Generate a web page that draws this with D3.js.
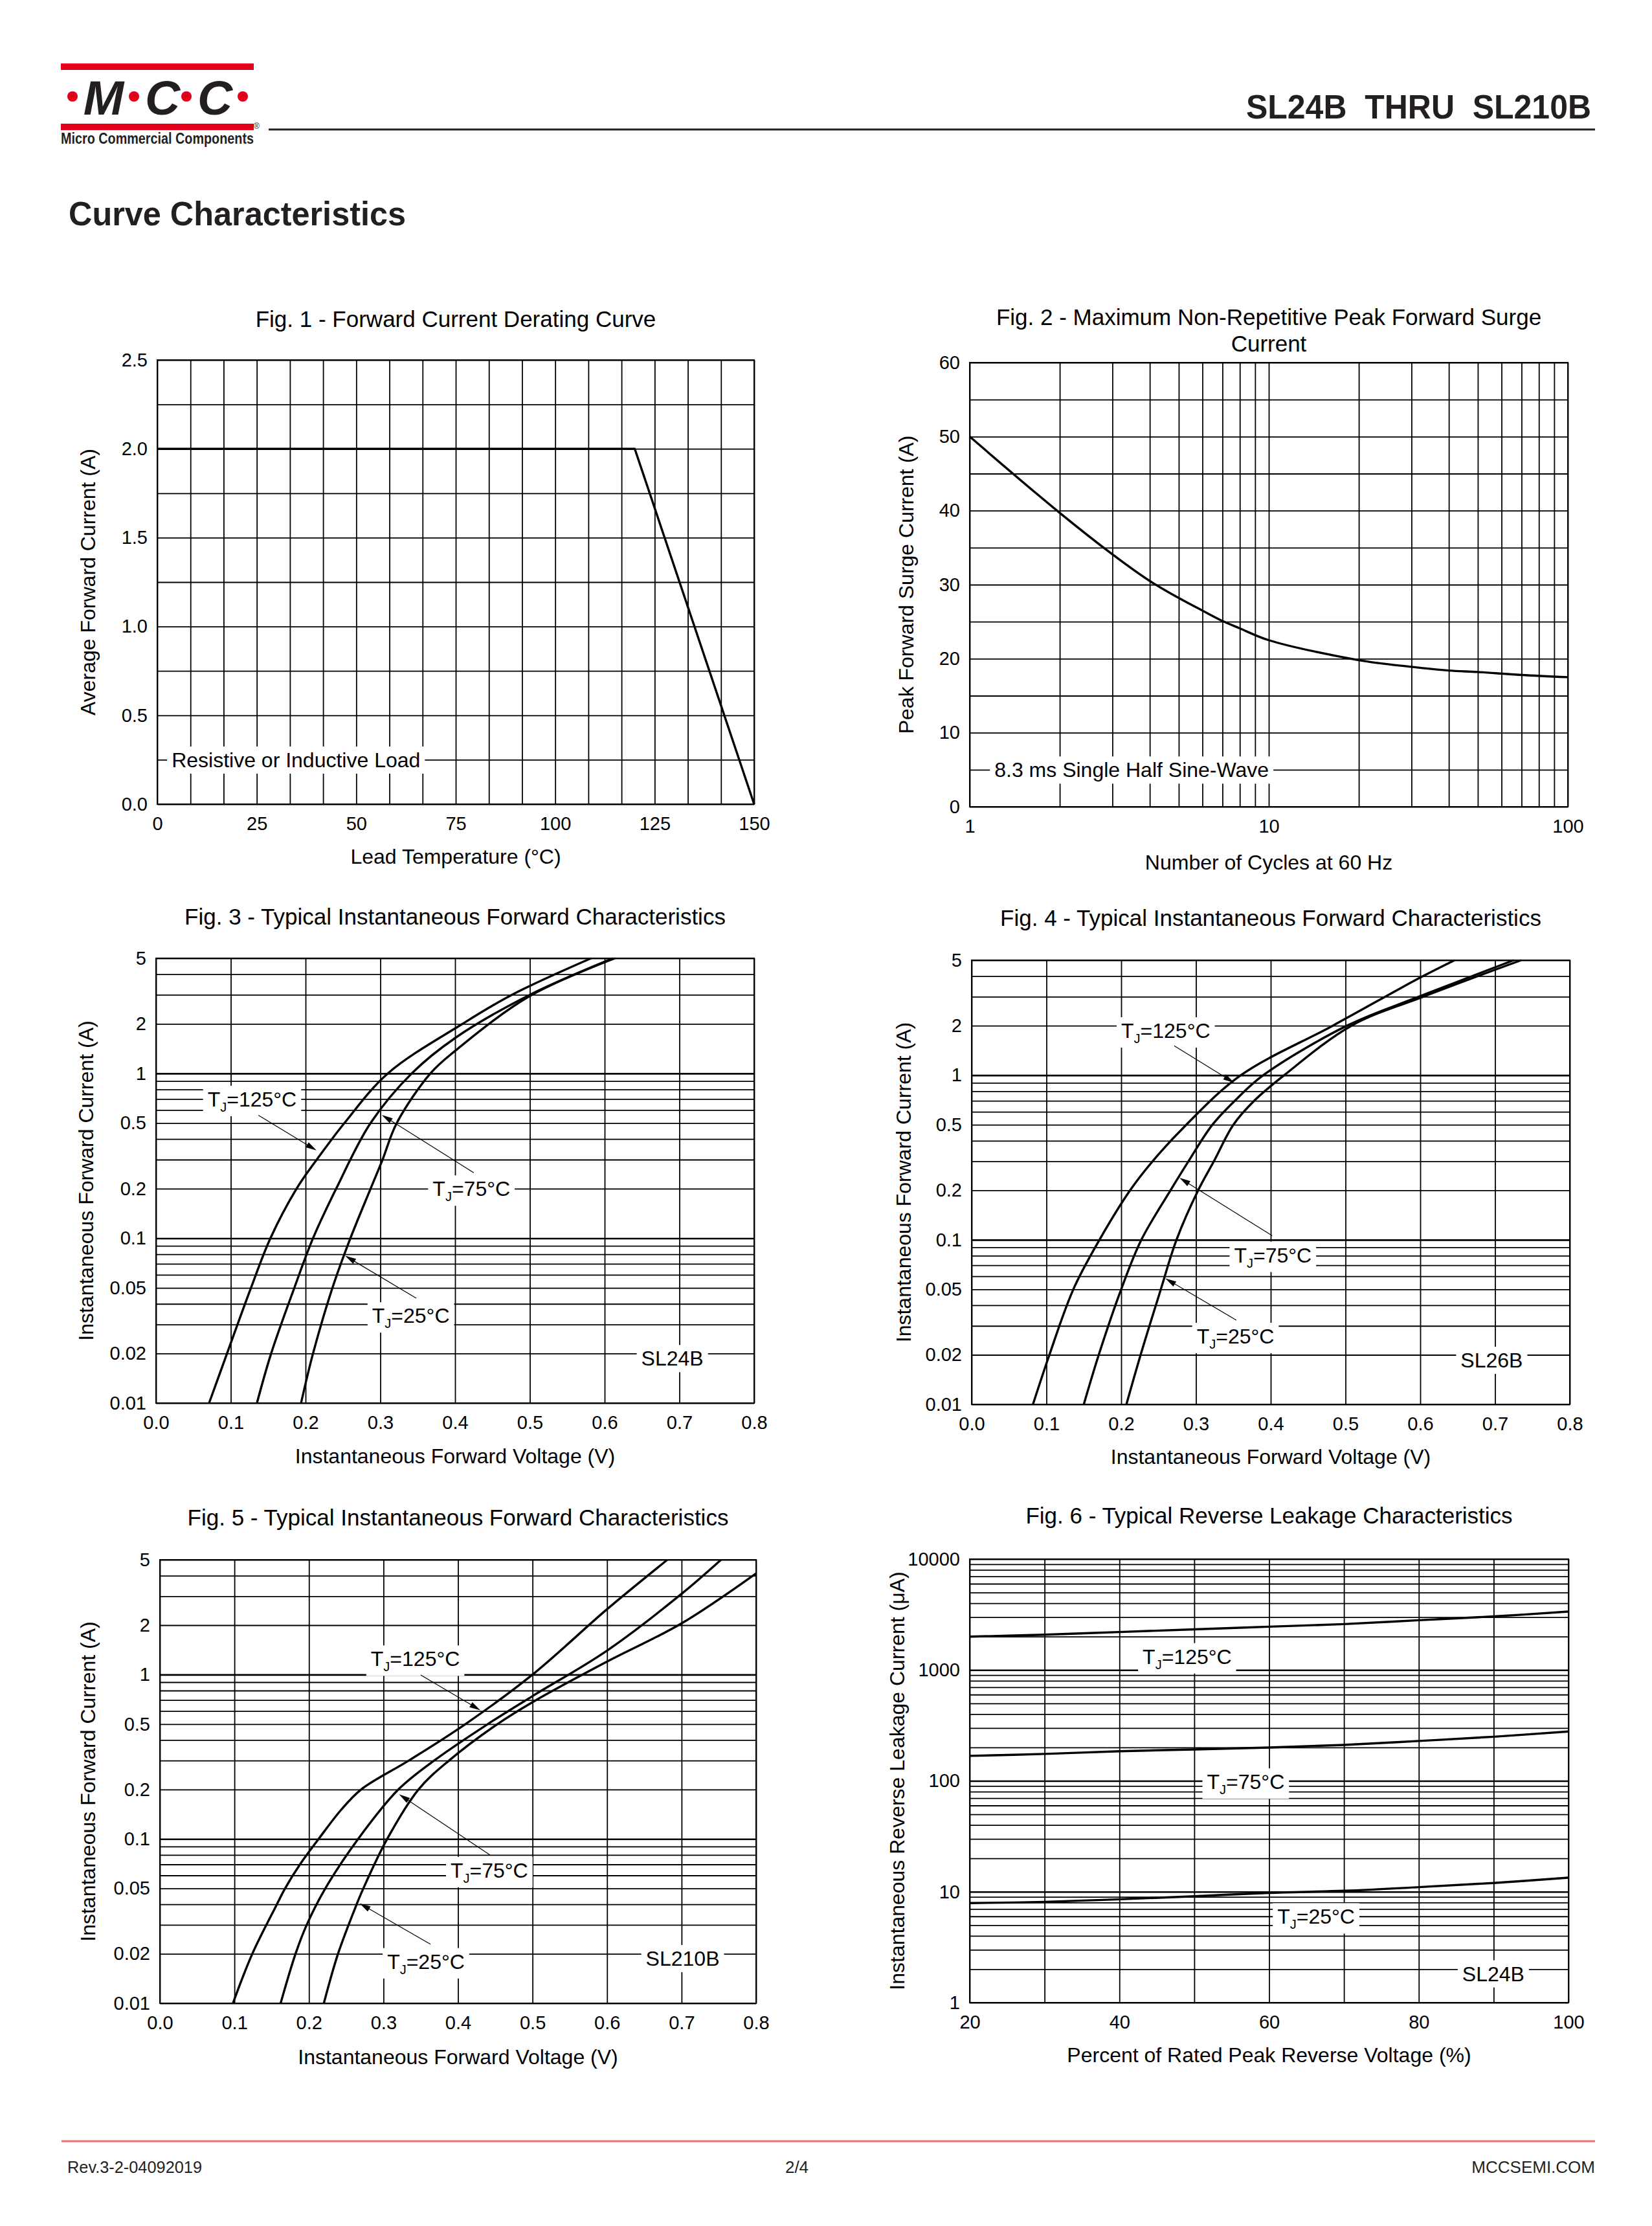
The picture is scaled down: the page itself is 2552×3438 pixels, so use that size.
<!DOCTYPE html>
<html>
<head>
<meta charset="utf-8">
<title>SL24B THRU SL210B - Curve Characteristics</title>
<script src="https://cdn.jsdelivr.net/npm/d3@7"></script>
<style>
  html, body { margin: 0; padding: 0; background: #fff; }
  svg { display: block; }
</style>
</head>
<body>
<script>
var FONT = '"Liberation Sans", Arial, Helvetica, sans-serif';

// ---------- Fig. 1 : derating ----------
var fig1Temp = [0, 120, 150];
var fig1Current = [2.0, 2.0, 0.0];
var fig1XTicks = [0, 25, 50, 75, 100, 125, 150];
var fig1YTicks = [0, 0.5, 1.0, 1.5, 2.0, 2.5];

// ---------- Fig. 2 : surge ----------
var fig2Cycles = [1, 2, 3, 4, 5, 6, 7, 8, 10, 20, 30, 40, 50, 70, 100];
var fig2Surge = [50, 39.7, 34.1, 30.5, 28.2, 26.5, 25.1, 24.1, 22.5, 19.8, 18.9, 18.4, 18.2, 17.8, 17.5];
var fig2XTicks = [1, 10, 100];
var fig2YTicks = [0, 10, 20, 30, 40, 50, 60];

// ---------- Fig. 3 : SL24B forward ----------
var fig3V125 = [0.071, 0.095, 0.127, 0.153, 0.188, 0.215, 0.252, 0.31, 0.41, 0.476, 0.582];
var fig3I125 = [0.01, 0.02, 0.05, 0.1, 0.2, 0.3, 0.5, 1, 2, 3, 5];
var fig3V75 = [0.135, 0.154, 0.185, 0.21, 0.241, 0.287, 0.342, 0.4, 0.5, 0.611];
var fig3I75 = [0.01, 0.02, 0.05, 0.1, 0.2, 0.5, 1, 1.64, 3.0, 5];
var fig3V25 = [0.194, 0.21, 0.236, 0.26, 0.287, 0.303, 0.322, 0.367, 0.4, 0.5, 0.614];
var fig3I25 = [0.01, 0.02, 0.05, 0.1, 0.2, 0.3, 0.5, 1, 1.37, 2.95, 5];

// ---------- Fig. 4 : SL26B forward ----------
var fig4V125 = [0.082, 0.104, 0.136, 0.171, 0.212, 0.242, 0.287, 0.36, 0.483, 0.6, 0.646];
var fig4I125 = [0.01, 0.02, 0.05, 0.1, 0.2, 0.3, 0.5, 1, 2, 3.92, 5];
var fig4V75 = [0.150, 0.17, 0.2, 0.227, 0.266, 0.29, 0.322, 0.352, 0.39, 0.502, 0.598, 0.725];
var fig4I75 = [0.01, 0.02, 0.05, 0.1, 0.2, 0.3, 0.5, 0.7, 1, 2, 3, 5];
var fig4V25 = [0.207, 0.226, 0.253, 0.274, 0.303, 0.324, 0.35, 0.378, 0.418, 0.508, 0.604, 0.735];
var fig4I25 = [0.01, 0.02, 0.05, 0.1, 0.2, 0.3, 0.5, 0.7, 1, 2, 3, 5];

// ---------- Fig. 5 : SL210B forward ----------
var fig5V125 = [0.098, 0.124, 0.157, 0.168, 0.188, 0.213, 0.243, 0.27, 0.334, 0.41, 0.5, 0.6, 0.681];
var fig5I125 = [0.01, 0.02, 0.04, 0.05, 0.07, 0.1, 0.15, 0.2, 0.3, 0.5, 1, 2.5, 5];
var fig5V75 = [0.162, 0.182, 0.197, 0.222, 0.266, 0.32, 0.368, 0.44, 0.5, 0.6, 0.7, 0.753];
var fig5I75 = [0.01, 0.02, 0.03, 0.05, 0.1, 0.2, 0.3, 0.5, 0.74, 1.4, 3.1, 5];
var fig5V25 = [0.22, 0.239, 0.264, 0.273, 0.305, 0.347, 0.388, 0.453, 0.5, 0.6, 0.7, 0.8];
var fig5I25 = [0.01, 0.02, 0.04, 0.05, 0.1, 0.2, 0.3, 0.5, 0.68, 1.2, 2.05, 4.13];

// forward-characteristic axes (fig 3-5)
var fwdXTicks = [0, 0.1, 0.2, 0.3, 0.4, 0.5, 0.6, 0.7, 0.8];
var fwdYTicks = [0.01, 0.02, 0.05, 0.1, 0.2, 0.5, 1, 2, 5];

// ---------- Fig. 6 : reverse leakage ----------
var fig6Percent = [20, 30, 40, 50, 60, 70, 80, 90, 100];
var fig6Leak125 = [2000, 2080, 2200, 2325, 2457, 2595, 2810, 3040, 3365];
var fig6Leak75 = [168, 175, 185, 192, 200, 211, 229, 250, 279];
var fig6Leak25 = [7.9, 8.1, 8.55, 9.1, 9.77, 10.2, 11.0, 12.0, 13.4];
var fig6XTicks = [20, 40, 60, 80, 100];
var fig6YTicks = [1, 10, 100, 1000, 10000];

// ---------- annotations (left edge / centre line, data units) ----------
var fig1Notes = [{t: 'Resistive or Inductive Load', x: 3.6, y: 0.25}];
var fig2Notes = [{t: '8.3 ms Single Half Sine-Wave', x: 1.21, y: 5}];
var fig3Notes = [
  {t: 'T', sub: 'J', post: '=125°C', x: 0.069, y: 0.70},
  {t: 'T', sub: 'J', post: '=75°C', x: 0.370, y: 0.20},
  {t: 'T', sub: 'J', post: '=25°C', x: 0.289, y: 0.034},
  {t: 'SL24B', x: 0.649, y: 0.0187}
];
var fig3Arrows = [
  [[0.137, 0.558], [0.2147, 0.341]],
  [[0.425, 0.25], [0.302, 0.56]],
  [[0.348, 0.0433], [0.253, 0.0783]]
];
var fig4Notes = [
  {t: 'T', sub: 'J', post: '=125°C', x: 0.200, y: 1.87},
  {t: 'T', sub: 'J', post: '=75°C', x: 0.351, y: 0.081},
  {t: 'T', sub: 'J', post: '=25°C', x: 0.301, y: 0.026},
  {t: 'SL26B', x: 0.654, y: 0.0186}
];
var fig4Arrows = [
  [[0.271, 1.51], [0.351, 0.9]],
  [[0.402, 0.106], [0.278, 0.238]],
  [[0.354, 0.0325], [0.259, 0.0583]]
];
var fig5Notes = [
  {t: 'T', sub: 'J', post: '=125°C', x: 0.283, y: 1.25},
  {t: 'T', sub: 'J', post: '=75°C', x: 0.390, y: 0.0646},
  {t: 'T', sub: 'J', post: '=25°C', x: 0.305, y: 0.018},
  {t: 'SL210B', x: 0.652, y: 0.0188}
];
var fig5Arrows = [
  [[0.35, 0.995], [0.43, 0.607]],
  [[0.443, 0.0798], [0.321, 0.187]],
  [[0.363, 0.0229], [0.268, 0.0405]]
];
var fig6Notes = [
  {t: 'T', sub: 'J', post: '=125°C', x: 43.1, y: 1328},
  {t: 'T', sub: 'J', post: '=75°C', x: 51.7, y: 98.5},
  {t: 'T', sub: 'J', post: '=25°C', x: 61.1, y: 5.99},
  {t: 'SL24B', x: 85.8, y: 1.83}
];

// ---------------------------------------------------------------
var svg = d3.select('body').append('svg')
  .attr('width', 2552).attr('height', 3438)
  .attr('font-family', FONT);

svg.append('rect').attr('width', 2552).attr('height', 3438).attr('fill', '#fff');

function zip(a, b) { return a.map(function (v, i) { return [v, b[i]]; }); }

function logGrid(lo, hi) {
  var out = [];
  for (var e = Math.floor(Math.log10(lo)); e <= Math.ceil(Math.log10(hi)); e++) {
    for (var m = 1; m < 10; m++) {
      var v = +(m * Math.pow(10, e)).toPrecision(6);
      if (v >= lo * 0.999 && v <= hi * 1.001) out.push(v);
    }
  }
  return out;
}

function drawChart(o) {
  var L = o.box[0], R = o.box[1], T = o.box[2], B = o.box[3];
  var x = (o.xLog ? d3.scaleLog() : d3.scaleLinear()).domain(o.xDomain).range([L, R]);
  var y = (o.yLog ? d3.scaleLog() : d3.scaleLinear()).domain(o.yDomain).range([B, T]);
  var g = svg.append('g');
  var bold = o.boldY || [];

  // grid
  var gx = g.append('g').attr('transform', 'translate(0,' + B + ')')
    .call(d3.axisBottom(x).tickValues(o.xGrid).tickSize(-(B - T)).tickFormat(''));
  var gy = g.append('g').attr('transform', 'translate(' + L + ',0)')
    .call(d3.axisLeft(y).tickValues(o.yGrid).tickSize(-(R - L)).tickFormat(''));
  gx.select('.domain').remove();
  gy.select('.domain').remove();
  gx.selectAll('.tick line').attr('stroke', '#000').attr('stroke-width', 1.8);
  gy.selectAll('.tick line').attr('stroke', '#000')
    .attr('stroke-width', function (d) { return bold.indexOf(d) >= 0 ? 2.6 : 1.8; });

  g.append('rect').attr('x', L).attr('y', T).attr('width', R - L).attr('height', B - T)
    .attr('fill', 'none').attr('stroke', '#000').attr('stroke-width', 2);

  // tick labels
  var ax = g.append('g').attr('transform', 'translate(0,' + B + ')')
    .call(d3.axisBottom(x).tickValues(o.xTicks).tickFormat(o.xFmt).tickSize(0).tickPadding(19));
  var ay = g.append('g').attr('transform', 'translate(' + L + ',0)')
    .call(d3.axisLeft(y).tickValues(o.yTicks).tickFormat(o.yFmt).tickSize(0).tickPadding(15));
  [ax, ay].forEach(function (a) {
    a.select('.domain').remove();
    a.attr('font-size', 29).attr('font-family', FONT);
    a.selectAll('text').attr('fill', '#000');
  });

  // titles
  o.title.forEach(function (line, i) {
    g.append('text').attr('x', (L + R) / 2).attr('y', T + o.titleDy[i])
      .attr('text-anchor', 'middle').attr('font-size', 35).attr('fill', '#000').text(line);
  });
  g.append('text').attr('x', (L + R) / 2).attr('y', B + o.xLabelDy)
    .attr('text-anchor', 'middle').attr('font-size', 32).attr('fill', '#000').text(o.xLabel);
  g.append('text')
    .attr('transform', 'translate(' + (L - o.yLabelDx) + ',' + (T + B) / 2 + ') rotate(-90)')
    .attr('text-anchor', 'middle').attr('font-size', 32).attr('fill', '#000').text(o.yLabel);

  // boxed notes
  (o.notes || []).forEach(function (n) {
    var t = g.append('text').attr('x', x(n.x)).attr('y', y(n.y)).attr('dy', '0.36em')
      .attr('font-size', 32).attr('fill', '#000');
    if (n.sub) {
      t.append('tspan').text(n.t);
      t.append('tspan').attr('font-size', 20).attr('dy', 8).text(n.sub);
      t.append('tspan').attr('dy', -8).text(n.post);
    } else {
      t.text(n.t);
    }
    var b = t.node().getBBox();
    g.insert('rect', function () { return t.node(); })
      .attr('x', b.x - 7).attr('y', b.y - 3)
      .attr('width', b.width + 14).attr('height', b.height + 6)
      .attr('fill', '#fff');
  });

  // curves
  var line = d3.line()
    .x(function (d) { return x(d[0]); })
    .y(function (d) { return y(d[1]); })
    .curve(o.curve || d3.curveCatmullRom.alpha(0.5));
  o.series.forEach(function (s) {
    g.append('path').datum(s).attr('d', line)
      .attr('fill', 'none').attr('stroke', '#000').attr('stroke-width', 3.4)
      .attr('stroke-linejoin', 'round').attr('stroke-linecap', 'butt');
  });

  // leader arrows
  (o.arrows || []).forEach(function (a) {
    var x0 = x(a[0][0]), y0 = y(a[0][1]), x1 = x(a[1][0]), y1 = y(a[1][1]);
    var dx = x1 - x0, dy = y1 - y0, len = Math.sqrt(dx * dx + dy * dy);
    var ux = dx / len, uy = dy / len, hl = 17, hw = 4.5;
    g.append('line').attr('x1', x0).attr('y1', y0)
      .attr('x2', x1 - ux * 10).attr('y2', y1 - uy * 10)
      .attr('stroke', '#000').attr('stroke-width', 1.2);
    var bx = x1 - ux * hl, by = y1 - uy * hl;
    g.append('path')
      .attr('d', 'M' + x1 + ',' + y1 +
        'L' + (bx - uy * hw) + ',' + (by + ux * hw) +
        'L' + (bx + uy * hw) + ',' + (by - ux * hw) + 'Z')
      .attr('fill', '#000');
  });
}

var fmt1 = d3.format('.1f');
var fmtPlain = function (d) { return String(d); };

drawChart({
  box: [243, 1165, 556, 1242],
  xDomain: [0, 150], yDomain: [0, 2.5],
  xGrid: d3.range(19).map(function (i) { return i * 25 / 3; }),
  yGrid: d3.range(11).map(function (i) { return i * 0.25; }),
  xTicks: fig1XTicks, yTicks: fig1YTicks, xFmt: fmtPlain, yFmt: fmt1,
  title: ['Fig. 1 - Forward Current Derating Curve'], titleDy: [-51],
  xLabel: 'Lead Temperature (°C)', xLabelDy: 92,
  yLabel: 'Average Forward Current (A)', yLabelDx: 96,
  notes: fig1Notes,
  curve: d3.curveLinear,
  series: [zip(fig1Temp, fig1Current)]
});

drawChart({
  box: [1498, 2422, 560, 1246],
  xLog: true, xDomain: [1, 100], yDomain: [0, 60],
  xGrid: logGrid(1, 100),
  yGrid: d3.range(13).map(function (i) { return i * 5; }),
  xTicks: fig2XTicks, yTicks: fig2YTicks, xFmt: fmtPlain, yFmt: fmtPlain,
  title: ['Fig. 2 - Maximum Non-Repetitive Peak Forward Surge', 'Current'], titleDy: [-58, -17],
  xLabel: 'Number of Cycles at 60 Hz', xLabelDy: 97,
  yLabel: 'Peak Forward Surge Current (A)', yLabelDx: 87,
  notes: fig2Notes,
  series: [zip(fig2Cycles, fig2Surge)]
});

drawChart({
  box: [241, 1165, 1480, 2167],
  yLog: true, xDomain: [0, 0.8], yDomain: [0.01, 5],
  xGrid: fwdXTicks, yGrid: logGrid(0.01, 5), boldY: [0.1, 1],
  xTicks: fwdXTicks, yTicks: fwdYTicks, xFmt: fmt1, yFmt: fmtPlain,
  title: ['Fig. 3 - Typical Instantaneous Forward Characteristics'], titleDy: [-52],
  xLabel: 'Instantaneous Forward Voltage (V)', xLabelDy: 93,
  yLabel: 'Instantaneous Forward Current (A)', yLabelDx: 97,
  notes: fig3Notes, arrows: fig3Arrows,
  series: [zip(fig3V125, fig3I125), zip(fig3V75, fig3I75), zip(fig3V25, fig3I25)]
});

drawChart({
  box: [1501, 2425, 1483, 2169],
  yLog: true, xDomain: [0, 0.8], yDomain: [0.01, 5],
  xGrid: fwdXTicks, yGrid: logGrid(0.01, 5), boldY: [0.1, 1],
  xTicks: fwdXTicks, yTicks: fwdYTicks, xFmt: fmt1, yFmt: fmtPlain,
  title: ['Fig. 4 - Typical Instantaneous Forward Characteristics'], titleDy: [-53],
  xLabel: 'Instantaneous Forward Voltage (V)', xLabelDy: 92,
  yLabel: 'Instantaneous Forward Current (A)', yLabelDx: 94,
  notes: fig4Notes, arrows: fig4Arrows,
  series: [zip(fig4V125, fig4I125), zip(fig4V75, fig4I75), zip(fig4V25, fig4I25)]
});

drawChart({
  box: [247, 1168, 2409, 3094],
  yLog: true, xDomain: [0, 0.8], yDomain: [0.01, 5],
  xGrid: fwdXTicks, yGrid: logGrid(0.01, 5), boldY: [0.1, 1],
  xTicks: fwdXTicks, yTicks: fwdYTicks, xFmt: fmt1, yFmt: fmtPlain,
  title: ['Fig. 5 - Typical Instantaneous Forward Characteristics'], titleDy: [-53],
  xLabel: 'Instantaneous Forward Voltage (V)', xLabelDy: 94,
  yLabel: 'Instantaneous Forward Current (A)', yLabelDx: 100,
  notes: fig5Notes, arrows: fig5Arrows,
  series: [zip(fig5V125, fig5I125), zip(fig5V75, fig5I75), zip(fig5V25, fig5I25)]
});

drawChart({
  box: [1498, 2423, 2408, 3093],
  yLog: true, xDomain: [20, 100], yDomain: [1, 10000],
  xGrid: d3.range(20, 101, 10), yGrid: logGrid(1, 10000), boldY: [10, 100, 1000],
  xTicks: fig6XTicks, yTicks: fig6YTicks, xFmt: fmtPlain, yFmt: fmtPlain,
  title: ['Fig. 6 - Typical Reverse Leakage Characteristics'], titleDy: [-55],
  xLabel: 'Percent of Rated Peak Reverse Voltage (%)', xLabelDy: 92,
  yLabel: 'Instantaneous Reverse Leakage Current (μA)', yLabelDx: 101,
  notes: fig6Notes,
  series: [zip(fig6Percent, fig6Leak125), zip(fig6Percent, fig6Leak75), zip(fig6Percent, fig6Leak25)]
});

// ---------- page header ----------
var red = '#e2001a';
var head = svg.append('g');
head.append('rect').attr('x', 94).attr('y', 98).attr('width', 298).attr('height', 10).attr('fill', red);
head.append('rect').attr('x', 94).attr('y', 191).attr('width', 298).attr('height', 10).attr('fill', red);
[[160, 'M'], [251, 'C'], [332, 'C']].forEach(function (l) {
  head.append('text').attr('x', l[0]).attr('y', 177).attr('text-anchor', 'middle')
    .attr('font-size', 75).attr('font-weight', 'bold').attr('font-style', 'italic')
    .attr('fill', '#231f20').text(l[1]);
});
[112, 207, 288, 375].forEach(function (cx) {
  head.append('circle').attr('cx', cx).attr('cy', 149).attr('r', 8).attr('fill', red);
});
head.append('text').attr('x', 392).attr('y', 199).attr('font-size', 12).attr('fill', '#231f20').text('®');
head.append('text').attr('x', 94).attr('y', 222).attr('font-size', 24).attr('font-weight', 'bold')
  .attr('fill', '#231f20').attr('textLength', 298).attr('lengthAdjust', 'spacingAndGlyphs')
  .text('Micro Commercial Components');
head.append('line').attr('x1', 415).attr('x2', 2464).attr('y1', 200).attr('y2', 200)
  .attr('stroke', '#231f20').attr('stroke-width', 3);
head.append('text').attr('x', 1925).attr('y', 183).attr('font-size', 52).attr('font-weight', 'bold')
  .attr('fill', '#231f20').style('white-space', 'pre')
  .attr('textLength', 533).attr('lengthAdjust', 'spacingAndGlyphs')
  .text('SL24B  THRU  SL210B');
head.append('text').attr('x', 106).attr('y', 348).attr('font-size', 52).attr('font-weight', 'bold')
  .attr('fill', '#231f20').attr('textLength', 521).attr('lengthAdjust', 'spacingAndGlyphs')
  .text('Curve Characteristics');

// ---------- footer ----------
var foot = svg.append('g').attr('font-size', 26).attr('fill', '#231f20');
foot.append('line').attr('x1', 95).attr('x2', 2464).attr('y1', 3307).attr('y2', 3307)
  .attr('stroke', '#ef6f75').attr('stroke-width', 3);
foot.append('text').attr('x', 104).attr('y', 3356).attr('textLength', 208)
  .attr('lengthAdjust', 'spacingAndGlyphs').text('Rev.3-2-04092019');
foot.append('text').attr('x', 1231).attr('y', 3356).attr('text-anchor', 'middle').text('2/4');
foot.append('text').attr('x', 2464).attr('y', 3356).attr('text-anchor', 'end').text('MCCSEMI.COM');
</script>
</body>
</html>
